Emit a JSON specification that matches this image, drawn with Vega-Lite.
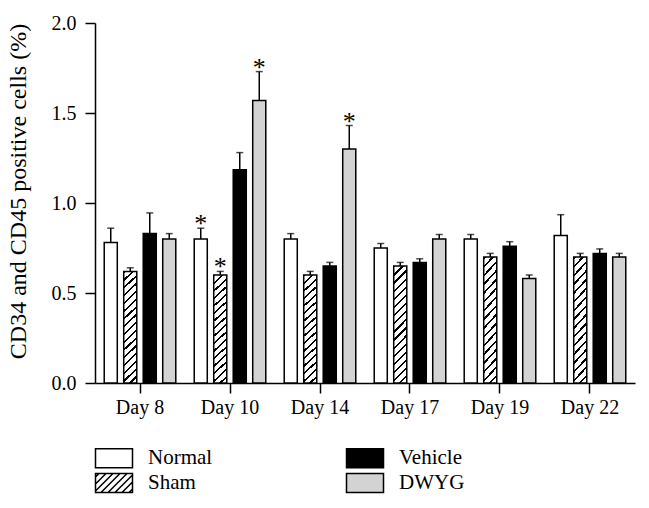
{
  "$schema": "https://vega.github.io/schema/vega-lite/v6.json",
  "width": 540,
  "height": 360,
  "autosize": {"type": "none"},
  "padding": {"left": 95, "top": 23, "right": 14, "bottom": 125},
  "config": {
    "view": {"stroke": null},
    "font": "Liberation Serif",
    "style": {"guide-label": {"font": "Liberation Serif"}},
    "axis": {
      "domainColor": "black",
      "domainWidth": 1.5,
      "tickColor": "black",
      "tickWidth": 1.5,
      "tickSize": 10,
      "labelColor": "black",
      "labelFontSize": 20,
      "titleColor": "black",
      "titleFontSize": 24,
      "titleFontWeight": "normal",
      "grid": false
    },
    "legend": {
      "title": null,
      "orient": "none",
      "legendX": 8,
      "legendY": 424,
      "columns": 2,
      "direction": "horizontal",
      "symbolSize": 400,
      "symbolStrokeColor": "black",
      "symbolStrokeWidth": 1.5,
      "symbolOpacity": 1,
      "labelFont": "Liberation Serif",
      "labelFontSize": 21,
      "labelColor": "black",
      "labelOffset": 23,
      "rowPadding": -1,
      "columnPadding": 130
    }
  },
  "data": {
    "values": [
      {"day": "Day 8", "group": "Normal", "value": 0.78, "err": 0.86, "sig": false},
      {"day": "Day 8", "group": "Sham", "value": 0.62, "err": 0.64, "sig": false},
      {"day": "Day 8", "group": "Vehicle", "value": 0.83, "err": 0.945, "sig": false},
      {"day": "Day 8", "group": "DWYG", "value": 0.80, "err": 0.83, "sig": false},
      {"day": "Day 10", "group": "Normal", "value": 0.80, "err": 0.86, "sig": true},
      {"day": "Day 10", "group": "Sham", "value": 0.60, "err": 0.62, "sig": true},
      {"day": "Day 10", "group": "Vehicle", "value": 1.185, "err": 1.28, "sig": false},
      {"day": "Day 10", "group": "DWYG", "value": 1.57, "err": 1.73, "sig": true},
      {"day": "Day 14", "group": "Normal", "value": 0.80, "err": 0.83, "sig": false},
      {"day": "Day 14", "group": "Sham", "value": 0.60, "err": 0.62, "sig": false},
      {"day": "Day 14", "group": "Vehicle", "value": 0.65, "err": 0.67, "sig": false},
      {"day": "Day 14", "group": "DWYG", "value": 1.30, "err": 1.43, "sig": true},
      {"day": "Day 17", "group": "Normal", "value": 0.75, "err": 0.775, "sig": false},
      {"day": "Day 17", "group": "Sham", "value": 0.65, "err": 0.67, "sig": false},
      {"day": "Day 17", "group": "Vehicle", "value": 0.67, "err": 0.69, "sig": false},
      {"day": "Day 17", "group": "DWYG", "value": 0.80, "err": 0.825, "sig": false},
      {"day": "Day 19", "group": "Normal", "value": 0.80, "err": 0.825, "sig": false},
      {"day": "Day 19", "group": "Sham", "value": 0.70, "err": 0.72, "sig": false},
      {"day": "Day 19", "group": "Vehicle", "value": 0.76, "err": 0.785, "sig": false},
      {"day": "Day 19", "group": "DWYG", "value": 0.58, "err": 0.60, "sig": false},
      {"day": "Day 22", "group": "Normal", "value": 0.82, "err": 0.935, "sig": false},
      {"day": "Day 22", "group": "Sham", "value": 0.70, "err": 0.72, "sig": false},
      {"day": "Day 22", "group": "Vehicle", "value": 0.72, "err": 0.745, "sig": false},
      {"day": "Day 22", "group": "DWYG", "value": 0.70, "err": 0.72, "sig": false}
    ]
  },
  "encoding": {
    "x": {
      "field": "day",
      "type": "nominal",
      "sort": ["Day 8", "Day 10", "Day 14", "Day 17", "Day 19", "Day 22"],
      "scale": {"paddingInner": 0.1333, "paddingOuter": 0.0667},
      "axis": {"title": null, "labelAngle": 0, "labelPadding": 4}
    },
    "xOffset": {
      "field": "group",
      "type": "nominal",
      "sort": ["Normal", "Sham", "Vehicle", "DWYG"],
      "scale": {"paddingInner": 0.33, "paddingOuter": 0.165}
    }
  },
  "layer": [
    {
      "mark": {"type": "bar", "stroke": "black", "strokeWidth": 1.5},
      "encoding": {
        "y": {
          "field": "value",
          "type": "quantitative",
          "scale": {"domain": [0, 2]},
          "axis": {
            "title": "CD34 and CD45 positive cells (%)",
            "values": [0, 0.5, 1, 1.5, 2],
            "format": ".1f",
            "labelPadding": 9,
            "titlePadding": 21,
            "titleY": 168
          }
        },
        "fill": {
          "condition": {
            "test": "datum.group === 'Sham'",
            "value": {"gradient": "linear", "x1": 0, "y1": 0, "x2": 0.124, "y2": 1.099, "stops": [
              {"offset": 0, "color": "black"}, {"offset": 0.0175, "color": "black"}, {"offset": 0.0175, "color": "white"}, {"offset": 0.0625, "color": "white"},
              {"offset": 0.0625, "color": "black"}, {"offset": 0.08, "color": "black"}, {"offset": 0.08, "color": "white"}, {"offset": 0.125, "color": "white"},
              {"offset": 0.125, "color": "black"}, {"offset": 0.1425, "color": "black"}, {"offset": 0.1425, "color": "white"}, {"offset": 0.1875, "color": "white"},
              {"offset": 0.1875, "color": "black"}, {"offset": 0.205, "color": "black"}, {"offset": 0.205, "color": "white"}, {"offset": 0.25, "color": "white"},
              {"offset": 0.25, "color": "black"}, {"offset": 0.2675, "color": "black"}, {"offset": 0.2675, "color": "white"}, {"offset": 0.3125, "color": "white"},
              {"offset": 0.3125, "color": "black"}, {"offset": 0.33, "color": "black"}, {"offset": 0.33, "color": "white"}, {"offset": 0.375, "color": "white"},
              {"offset": 0.375, "color": "black"}, {"offset": 0.3925, "color": "black"}, {"offset": 0.3925, "color": "white"}, {"offset": 0.4375, "color": "white"},
              {"offset": 0.4375, "color": "black"}, {"offset": 0.455, "color": "black"}, {"offset": 0.455, "color": "white"}, {"offset": 0.5, "color": "white"},
              {"offset": 0.5, "color": "black"}, {"offset": 0.5175, "color": "black"}, {"offset": 0.5175, "color": "white"}, {"offset": 0.5625, "color": "white"},
              {"offset": 0.5625, "color": "black"}, {"offset": 0.58, "color": "black"}, {"offset": 0.58, "color": "white"}, {"offset": 0.625, "color": "white"},
              {"offset": 0.625, "color": "black"}, {"offset": 0.6425, "color": "black"}, {"offset": 0.6425, "color": "white"}, {"offset": 0.6875, "color": "white"},
              {"offset": 0.6875, "color": "black"}, {"offset": 0.705, "color": "black"}, {"offset": 0.705, "color": "white"}, {"offset": 0.75, "color": "white"},
              {"offset": 0.75, "color": "black"}, {"offset": 0.7675, "color": "black"}, {"offset": 0.7675, "color": "white"}, {"offset": 0.8125, "color": "white"},
              {"offset": 0.8125, "color": "black"}, {"offset": 0.83, "color": "black"}, {"offset": 0.83, "color": "white"}, {"offset": 0.875, "color": "white"},
              {"offset": 0.875, "color": "black"}, {"offset": 0.8925, "color": "black"}, {"offset": 0.8925, "color": "white"}, {"offset": 0.9375, "color": "white"},
              {"offset": 0.9375, "color": "black"}, {"offset": 0.955, "color": "black"}, {"offset": 0.955, "color": "white"}, {"offset": 1, "color": "white"}
            ]}
          },
          "field": "group",
          "type": "nominal",
          "scale": {
            "domain": ["Normal", "Vehicle", "Sham", "DWYG"],
            "range": ["white", "black", "white", "#d3d3d3"]
          },
          "legend": {"title": null, "labelFont": "Liberation Serif", "labelFontSize": 21}
        }
      }
    },
    {
      "mark": {"type": "rule", "strokeWidth": 1.5, "color": "black"},
      "encoding": {
        "y": {"field": "value", "type": "quantitative"},
        "y2": {"field": "err"}
      }
    },
    {
      "mark": {"type": "tick", "size": 7, "thickness": 1.5, "color": "black", "orient": "horizontal"},
      "encoding": {
        "y": {"field": "err", "type": "quantitative"}
      }
    },
    {
      "transform": [{"filter": "datum.sig"}],
      "mark": {"type": "text", "text": "*", "fontSize": 26, "baseline": "alphabetic", "dy": 4, "color": "black"},
      "encoding": {
        "y": {"field": "err", "type": "quantitative"}
      }
    },
    {
      "transform": [{"filter": "false"}],
      "mark": {"type": "point", "stroke": "black", "strokeWidth": 1.5},
      "encoding": {
        "y": {"field": "value", "type": "quantitative"},
        "shape": {
          "field": "group",
          "type": "nominal",
          "scale": {
            "domain": ["Normal", "Vehicle", "Sham", "DWYG"],
            "range": [
              "M-1.85,-0.95H1.85V0.95H-1.85Z",
              "M-1.85,-0.95H1.85V0.95H-1.85Z",
              "M-1.85,-0.95H1.85V0.95H-1.85Z M-1.85,-0.6L-1.5,-0.95 M-1.85,0.1L-0.8,-0.95 M-1.85,0.8L-0.1,-0.95 M-1.3,0.95L0.6,-0.95 M-0.6,0.95L1.3,-0.95 M0.1,0.95L1.85,-0.8 M0.8,0.95L1.85,-0.1 M1.5,0.95L1.85,0.6",
              "M-1.85,-0.95H1.85V0.95H-1.85Z"
            ]
          },
          "legend": {"title": null, "labelFont": "Liberation Serif", "labelFontSize": 21}
        }
      }
    }
  ]
}
